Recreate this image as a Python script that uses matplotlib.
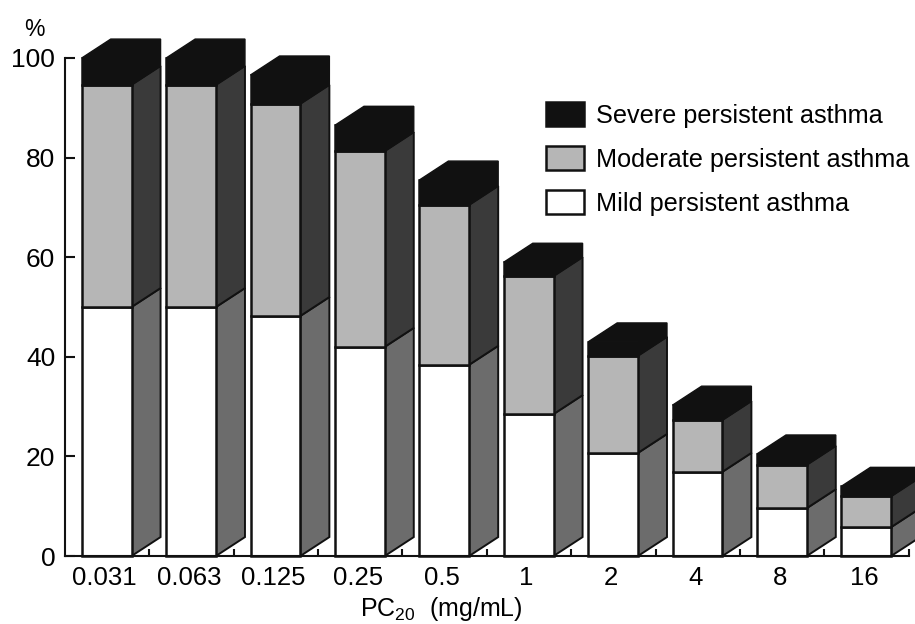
import matplotlib
matplotlib.use('Agg')
import matplotlib.pyplot as plt
from matplotlib.patches import Patch, Polygon
import numpy as np

plt.rcParams['font.family'] = ['Liberation Sans', 'DejaVu Sans']
plt.rcParams['mathtext.default'] = 'regular'

doses = ['0.031', '0.063', '0.125', '0.25', '0.5', '1', '2', '4', '8', '16']
mild = [50.0, 50.0, 48.2, 42.0, 38.4, 28.5, 20.7, 16.9, 9.6, 5.8]
moderate = [44.6, 44.6, 42.6, 39.3, 32.1, 27.7, 19.5, 10.4, 8.7, 6.2]
severe = [5.4, 5.4, 5.8, 5.2, 5.0, 2.8, 2.8, 3.0, 2.2, 2.0]

C_LINE = '#111111'
C_MODERATE = '#b6b6b6'
C_MILD = '#ffffff'
C_SIDE_MOD = '#3a3a3a'
C_SIDE_MILD = '#6c6c6c'

W, H = 915, 624
fig = plt.figure(figsize=(W / 100, H / 100), dpi=100)
ax = fig.add_axes([65 / W, (H - 556) / H, (W - 65) / W, (556 - 58) / H])
ax.set_xlim(-0.4976, 9.573)
ax.set_ylim(0, 100)

bar_w = 0.59
# depth of the fake 3d block, in data units
dx = 29 / 84.4
dy = 3.8
x = np.arange(len(doses))
left = x - bar_w / 2 - 0.004


def side(x0, y0, y1, color):
    pts = [(x0, y0), (x0 + dx, y0 + dy), (x0 + dx, y1 + dy), (x0, y1)]
    ax.add_patch(Polygon(pts, closed=True, fc=color, ec=C_LINE, lw=1.4, zorder=2, clip_on=False))


bottoms = np.zeros(len(doses))
for vals, col in [(mild, C_MILD), (moderate, C_MODERATE), (severe, C_LINE)]:
    ax.bar(left, vals, bar_w, bottom=bottoms, align='edge', color=col,
           edgecolor=C_LINE, linewidth=1.8, zorder=3, clip_on=False)
    bottoms = bottoms + np.array(vals)

for i in range(len(doses)):
    x0 = left[i] + bar_w
    m1 = mild[i]
    m2 = m1 + moderate[i]
    t = m2 + severe[i]
    side(x0, 0, m1, C_SIDE_MILD)
    side(x0, m1, m2, C_SIDE_MOD)
    # black lid plus the black upper part of the side face
    lid = [(left[i], t), (left[i] + dx, t + dy), (x0 + dx, t + dy), (x0 + dx, m2 + dy), (x0, m2), (x0, t)]
    ax.add_patch(Polygon(lid, closed=True, fc=C_LINE, ec=C_LINE, lw=1.0, zorder=2, clip_on=False))

for s in ['top', 'right']:
    ax.spines[s].set_visible(False)
for s in ['left', 'bottom']:
    ax.spines[s].set_linewidth(1.5)
    ax.spines[s].set_color(C_LINE)
ax.spines['bottom'].set_bounds(-0.4976, 9.5)
ax.spines['bottom'].set_zorder(4)

ax.set_yticks(range(0, 101, 20))
ax.tick_params(axis='y', direction='in', length=7, width=1.5, pad=7, labelsize=19, color=C_LINE)
ax.set_xticks(x + 0.5)
ax.set_xticklabels([])
ax.tick_params(axis='x', which='major', direction='in', length=5, width=1.5, color=C_LINE)
ax.set_xticks(x - 0.03, labels=doses, minor=True)
ax.tick_params(axis='x', which='minor', length=0, pad=7, labelsize=18.5)

fig.text(34 / W, 1 - 30 / H, '%', fontsize=16.5, ha='center', va='center')
fig.text(441 / W, 1 - 609 / H, 'PC$_{20}$  (mg/mL)', fontsize=18, ha='center', va='center')

handles = [Patch(fc=C_LINE, ec=C_LINE, lw=1.8, label='Severe persistent asthma'),
           Patch(fc=C_MODERATE, ec=C_LINE, lw=1.8, label='Moderate persistent asthma'),
           Patch(fc=C_MILD, ec=C_LINE, lw=1.8, label='Mild persistent asthma')]
ax.legend(handles=handles, loc='upper left', bbox_to_anchor=(546 / W, 1 - 102 / H),
          bbox_transform=fig.transFigure, frameon=False, fontsize=18.2, borderpad=0, borderaxespad=0,
          handlelength=1.5, handleheight=1.07, handletextpad=0.47, labelspacing=0.74)

fig.savefig('out.png', dpi=100)
